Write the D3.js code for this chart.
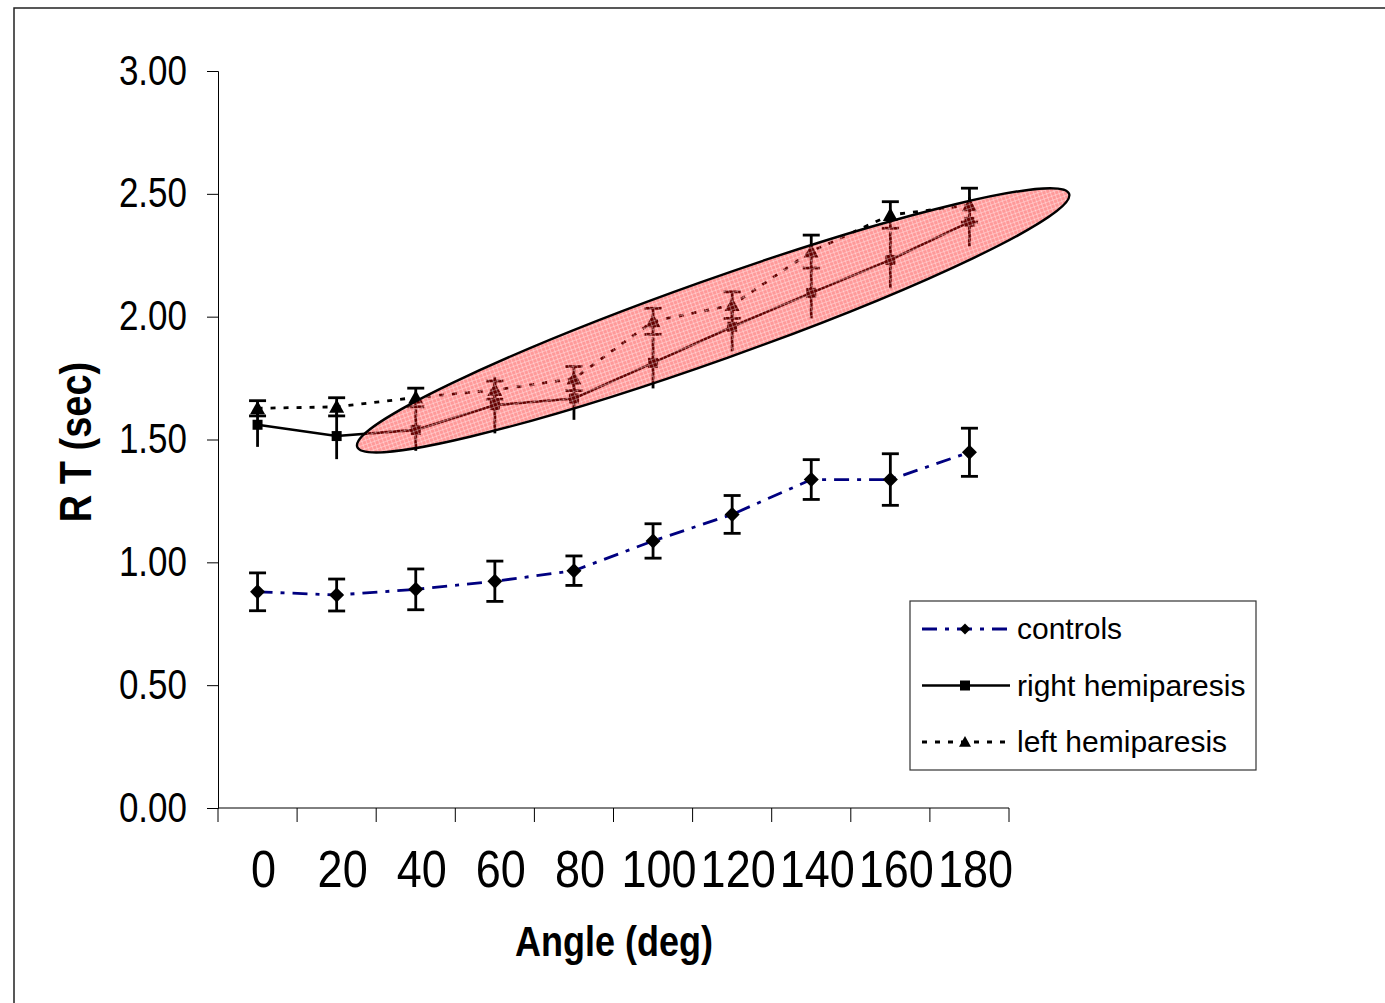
<!DOCTYPE html>
<html>
<head>
<meta charset="utf-8">
<script src="https://cdn.jsdelivr.net/npm/d3@7"></script>
<style>
  body { margin: 0; background: #fff; }
  text { font-family: "Liberation Sans", Arial, sans-serif; fill: #000; }
</style>
</head>
<body>
<div id="chart"></div>
<script>
// categories (angle, deg)
var angles = ['0', '20', '40', '60', '80', '100', '120', '140', '160', '180'];

// mean RT (sec) and error per group
var controlsMean = [0.88, 0.867, 0.89, 0.923, 0.966, 1.087, 1.195, 1.337, 1.337, 1.448];
var controlsErr  = [0.077, 0.065, 0.083, 0.082, 0.06, 0.07, 0.077, 0.081, 0.105, 0.098];
var rightMean = [1.56, 1.514, 1.539, 1.64, 1.667, 1.812, 1.959, 2.097, 2.231, 2.386];
var rightErr  = [0.09, 0.094, 0.085, 0.115, 0.087, 0.104, 0.10, 0.104, 0.115, 0.10];
var leftMean = [1.627, 1.633, 1.671, 1.701, 1.748, 1.981, 2.047, 2.265, 2.414, 2.454];
var leftErr  = [0.031, 0.037, 0.038, 0.037, 0.049, 0.053, 0.054, 0.067, 0.054, 0.069];

var yTicks = [0, 0.5, 1, 1.5, 2, 2.5, 3];
var seriesNames = ['controls', 'right hemiparesis', 'left hemiparesis'];

// highlighted region: tips in (category index, RT) units, half width in RT units
var ellipseTips = [[1.76, 1.47], [10.76, 2.50]];
var ellipseHalfWidth = 0.163;

var margin = { top: 71, right: 376, bottom: 195, left: 218 };
var fullW = 1385, fullH = 1003;
var width = fullW - margin.left - margin.right;   // 791
var height = fullH - margin.top - margin.bottom;  // 737

var svgRoot = d3.select('#chart').append('svg')
    .attr('width', fullW)
    .attr('height', fullH);

// outer frame
svgRoot.append('path')
    .attr('d', 'M14,' + fullH + 'V8H' + fullW)
    .attr('fill', 'none')
    .attr('stroke', '#222')
    .attr('stroke-width', 1.5);

var svg = svgRoot.append('g')
    .attr('transform', 'translate(' + margin.left + ',' + margin.top + ')');

var x = d3.scaleBand().domain(angles).range([0, width]);
var xIdx = d3.scaleLinear().domain([0, angles.length]).range([0, width]);
var y = d3.scaleLinear().domain([0, 3]).range([height, 0]);

function cx(d, i) { return x(angles[i]) + x.bandwidth() / 2; }

// y axis
var yAxis = d3.axisLeft(y).tickValues(yTicks).tickFormat(d3.format('.2f')).tickSize(11).tickPadding(0);
var gy = svg.append('g').attr('class', 'y axis').call(yAxis);
gy.select('.domain').attr('stroke', '#000').attr('stroke-width', 1);
gy.selectAll('.tick line').attr('stroke', '#000');
gy.selectAll('.tick text').remove();
gy.selectAll('.tick').append('text')
    .attr('text-anchor', 'end')
    .attr('font-size', 35)
    .attr('transform', 'translate(-31,13) scale(1,1.2)')
    .text(function(d) { return d3.format('.2f')(d); });

// x axis: ticks between categories
var gx = svg.append('g').attr('class', 'x axis').attr('transform', 'translate(0,' + height + ')');
gx.append('line').attr('x1', 0).attr('x2', width).attr('stroke', '#000');
gx.selectAll('.xtick').data(d3.range(angles.length + 1)).enter().append('line')
    .attr('x1', function(d) { return xIdx(d); })
    .attr('x2', function(d) { return xIdx(d); })
    .attr('y1', 0).attr('y2', 14)
    .attr('stroke', '#000');
gx.selectAll('.xlabel').data(angles).enter().append('text')
    .attr('text-anchor', 'middle')
    .attr('font-size', 45)
    .attr('transform', function(d) {
        return 'translate(' + (x(d) + x.bandwidth() / 2 + 6) + ',79) scale(1,1.15)';
    })
    .text(function(d) { return d; });

// axis titles
svgRoot.append('text')
    .attr('text-anchor', 'middle')
    .attr('font-weight', 'bold')
    .attr('font-size', 38)
    .attr('transform', 'translate(91,442) rotate(-90) scale(1,1.15)')
    .text('R T (sec)');
svgRoot.append('text')
    .attr('text-anchor', 'middle')
    .attr('font-weight', 'bold')
    .attr('font-size', 36)
    .attr('transform', 'translate(614,956) scale(1,1.2)')
    .text('Angle (deg)');

// marker shapes
function diamond(r) { return 'M0,' + (-r) + 'L' + r + ',0L0,' + r + 'L' + (-r) + ',0Z'; }
function square(r) { return 'M' + (-r) + ',' + (-r) + 'h' + (2 * r) + 'v' + (2 * r) + 'h' + (-2 * r) + 'Z'; }
function triangle(r) { return 'M0,' + (-r) + 'L' + r + ',' + (r * 0.8) + 'L' + (-r) + ',' + (r * 0.8) + 'Z'; }

var series = [
    { mean: controlsMean, err: controlsErr, color: '#000080', dash: '15,8,4,8', width: 2.8, marker: diamond, size: 7.5, capW: 8.5 },
    { mean: rightMean, err: rightErr, color: '#000', dash: null, width: 2.6, marker: square, size: 5, capW: 0 },
    { mean: leftMean, err: leftErr, color: '#000', dash: '5,8', width: 2.8, marker: triangle, size: 7.5, capW: 8.5 }
];

series.forEach(function(s) {
    var line = d3.line()
        .x(function(d, i) { return cx(d, i); })
        .y(function(d) { return y(d); });
    svg.append('path')
        .datum(s.mean)
        .attr('d', line)
        .attr('fill', 'none')
        .attr('stroke', s.color)
        .attr('stroke-width', s.width)
        .attr('stroke-dasharray', s.dash);

    // error bars
    var eb = svg.append('g').attr('stroke', '#000').attr('stroke-width', 2.8);
    s.mean.forEach(function(m, i) {
        var px = cx(m, i), top = y(m + s.err[i]), bot = y(m - s.err[i]);
        eb.append('line').attr('x1', px).attr('x2', px).attr('y1', top).attr('y2', bot);
        if (s.capW > 0) {
            eb.append('line').attr('x1', px - s.capW).attr('x2', px + s.capW).attr('y1', top).attr('y2', top);
            eb.append('line').attr('x1', px - s.capW).attr('x2', px + s.capW).attr('y1', bot).attr('y2', bot);
        }
    });

    svg.append('g').selectAll('path').data(s.mean).enter().append('path')
        .attr('d', s.marker(s.size))
        .attr('transform', function(d, i) { return 'translate(' + cx(d, i) + ',' + y(d) + ')'; })
        .attr('fill', '#000');
});

// hatched pink ellipse on top
var defs = svgRoot.append('defs');
var pat = defs.append('pattern')
    .attr('id', 'pinkgrid')
    .attr('patternUnits', 'userSpaceOnUse')
    .attr('width', 4).attr('height', 4);
pat.append('rect').attr('width', 4).attr('height', 4).attr('fill', '#ff0000').attr('fill-opacity', 0.4);
pat.append('rect').attr('width', 4).attr('height', 1).attr('fill', '#ffffff').attr('fill-opacity', 0.35);
pat.append('rect').attr('width', 1).attr('height', 4).attr('fill', '#ffffff').attr('fill-opacity', 0.35);

var p0 = [xIdx(ellipseTips[0][0]), y(ellipseTips[0][1])];
var p1 = [xIdx(ellipseTips[1][0]), y(ellipseTips[1][1])];
var ecx = (p0[0] + p1[0]) / 2, ecy = (p0[1] + p1[1]) / 2;
var rx = Math.hypot(p1[0] - p0[0], p1[1] - p0[1]) / 2;
var ang = Math.atan2(p1[1] - p0[1], p1[0] - p0[0]) * 180 / Math.PI;
var ry = y(0) - y(ellipseHalfWidth);
svg.append('ellipse')
    .attr('cx', 0).attr('cy', 0)
    .attr('rx', rx).attr('ry', ry)
    .attr('transform', 'translate(' + ecx + ',' + ecy + ') rotate(' + ang + ')')
    .attr('fill', 'url(#pinkgrid)')
    .attr('stroke', '#000')
    .attr('stroke-width', 2.4);

// legend
var lg = svgRoot.append('g').attr('transform', 'translate(910,601)');
lg.append('rect')
    .attr('width', 346).attr('height', 169)
    .attr('fill', '#fff')
    .attr('stroke', '#333').attr('stroke-width', 1.2);
var legendMarkerSize = [5.5, 5, 6];
seriesNames.forEach(function(name, i) {
    var s = series[i];
    var ly = 28 + i * 56.5;
    lg.append('line')
        .attr('x1', 12).attr('x2', 100).attr('y1', ly).attr('y2', ly)
        .attr('stroke', s.color)
        .attr('stroke-width', s.width)
        .attr('stroke-dasharray', s.dash);
    lg.append('path')
        .attr('d', s.marker(legendMarkerSize[i]))
        .attr('transform', 'translate(55,' + ly + ')')
        .attr('fill', '#000');
    lg.append('text')
        .attr('x', 107).attr('y', ly + 10)
        .attr('font-size', 30)
        .text(name);
});
</script>
</body>
</html>
